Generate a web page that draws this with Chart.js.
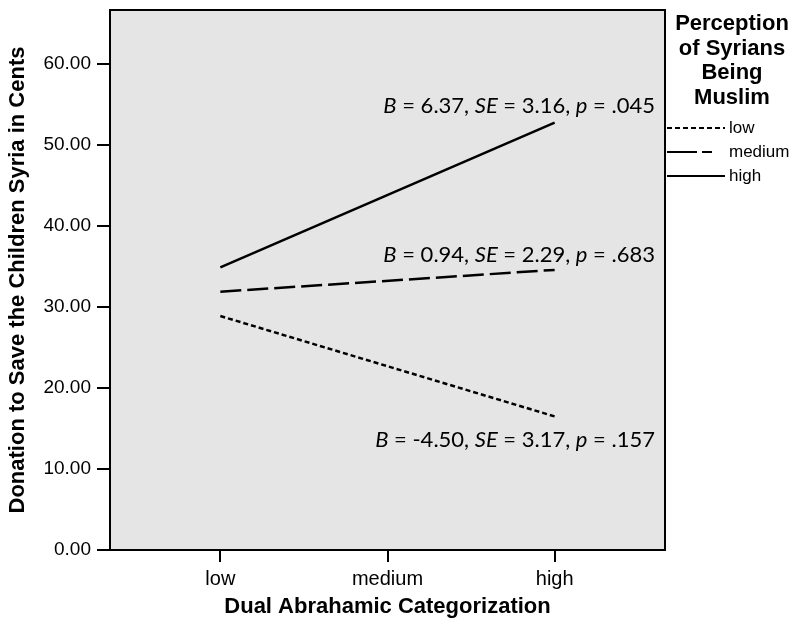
<!DOCTYPE html>
<html>
<head>
<meta charset="utf-8">
<script src="https://cdn.jsdelivr.net/npm/chart.js@4"></script>
<style>
html,body{margin:0;padding:0;background:#fff;}
#wrap{width:791px;height:625px;position:relative;}
</style>
</head>
<body>
<div id="wrap"><canvas id="c" width="791" height="625"></canvas></div>
<script>
// ---- data ----
const categories = ['low', 'medium', 'high'];
const seriesNames = ['low', 'medium', 'high'];
// fitted simple-slope lines, values at "low" and "high" Dual Abrahamic Categorization
const lowValues = [28.9, 16.5];
const mediumValues = [31.9, 34.6];
const highValues = [34.9, 52.8];
const lineAt = [0, 2]; // category indices of the two ends
const bValues = ['-4.50', '0.94', '6.37'];
const seValues = ['3.17', '2.29', '3.16'];
const pValues = ['.157', '.683', '.045'];
const yTicks = [0, 10, 20, 30, 40, 50, 60];

const FONT = '"Liberation Sans", Arial, sans-serif';
const styles = [
  { dash: [5, 3] },
  { dash: [21, 6] },
  { dash: [] }
];
const seriesValues = [lowValues, mediumValues, highValues];

const datasets = seriesNames.map((n, i) => ({
  label: n,
  data: seriesValues[i].map((v, k) => ({ x: lineAt[k], y: v })),
  borderColor: '#000',
  borderWidth: 2.5,
  borderDash: styles[i].dash,
  pointRadius: 0,
  fill: false,
  tension: 0
}));

const framePlugin = {
  id: 'frame',
  beforeDatasetsDraw(chart) {
    const { ctx, chartArea: a } = chart;
    ctx.save();
    ctx.fillStyle = '#e5e5e5';
    ctx.fillRect(a.left, a.top, a.right - a.left, a.bottom - a.top);
    ctx.restore();
  },
  afterDraw(chart) {
    const { ctx, chartArea: a } = chart;
    ctx.save();
    ctx.strokeStyle = '#000';
    ctx.lineWidth = 2;
    ctx.strokeRect(a.left, a.top, a.right - a.left, a.bottom - a.top);
    ctx.restore();
  }
};

// statistics annotations (anchored in data coordinates, right aligned)
const annotAnchors = [
  { x: 2.6, y: 13.6 },
  { x: 2.6, y: 36.4 },
  { x: 2.6, y: 54.9 }
];
const annotPlugin = {
  id: 'annot',
  afterDatasetsDraw(chart) {
    const { ctx, scales } = chart;
    ctx.save();
    ctx.fillStyle = '#000';
    ctx.textBaseline = 'middle';
    const size = 22;
    const fontN = size + 'px Lato, "Open Sans", sans-serif';
    const fontI = 'italic ' + size + 'px Lato, "Open Sans", sans-serif';
    seriesNames.forEach((n, i) => {
      const parts = [
        ['B', true], [' = ' + bValues[i] + ', ', false],
        ['SE', true], [' = ' + seValues[i] + ', ', false],
        ['p', true], [' = ' + pValues[i], false]
      ];
      let total = 0;
      parts.forEach(p => { ctx.font = p[1] ? fontI : fontN; total += ctx.measureText(p[0]).width; });
      let x = scales.x.getPixelForValue(annotAnchors[i].x) - total;
      const y = scales.y.getPixelForValue(annotAnchors[i].y);
      ctx.textAlign = 'left';
      parts.forEach(p => {
        ctx.font = p[1] ? fontI : fontN;
        ctx.fillText(p[0], x, y);
        x += ctx.measureText(p[0]).width;
      });
    });
    ctx.restore();
  }
};

const legendPlugin = {
  id: 'customLegend',
  afterDraw(chart) {
    const { ctx, chartArea: a } = chart;
    ctx.save();
    ctx.fillStyle = '#000';
    ctx.textAlign = 'center';
    ctx.textBaseline = 'middle';
    ctx.font = 'bold 22px ' + FONT;
    const titleLines = ['Perception', 'of Syrians', 'Being', 'Muslim'];
    const cx = a.right + 67;
    titleLines.forEach((t, i) => ctx.fillText(t, cx, 24 + i * 24.5));
    ctx.font = '17px ' + FONT;
    ctx.textAlign = 'left';
    const legendDash = [[5, 3], [30, 5, 10, 200], []];
    chart.data.datasets.forEach((ds, i) => {
      const y = 128 + i * 24;
      ctx.strokeStyle = '#000';
      ctx.lineWidth = 2;
      ctx.setLineDash(legendDash[i]);
      ctx.beginPath();
      ctx.moveTo(a.right + 2, y);
      ctx.lineTo(a.right + 60, y);
      ctx.stroke();
      ctx.setLineDash([]);
      ctx.fillText(ds.label, a.right + 64, y);
    });
    ctx.restore();
  }
};

new Chart(document.getElementById('c'), {
  type: 'line',
  data: { datasets },
  options: {
    responsive: false,
    animation: false,
    layout: { padding: { top: 10, right: 126, left: 0, bottom: 0 } },
    plugins: { legend: { display: false }, tooltip: { enabled: false } },
    scales: {
      x: {
        type: 'linear',
        min: -0.66,
        max: 2.66,
        afterBuildTicks: s => { s.ticks = categories.map((c, i) => ({ value: i })); },
        afterFit: s => { s.height = 75; s.paddingLeft = 0; s.paddingRight = 0; },
        ticks: {
          callback: v => categories[v],
          font: { size: 20, family: FONT },
          color: '#000',
          padding: 5,
          maxRotation: 0
        },
        grid: { drawOnChartArea: false, drawTicks: true, tickLength: 12, color: '#000', lineWidth: 2 },
        border: { display: false },
        title: {
          display: true,
          text: 'Dual Abrahamic Categorization',
          font: { size: 22, weight: 'bold', family: FONT },
          color: '#000',
          padding: { top: 0, bottom: 5 }
        }
      },
      y: {
        type: 'linear',
        min: 0,
        max: 66.7,
        afterBuildTicks: s => { s.ticks = yTicks.map(v => ({ value: v })); },
        afterFit: s => { s.width = 110; s.paddingTop = 0; s.paddingBottom = 0; },
        ticks: {
          callback: v => v.toFixed(2),
          font: { size: 19, family: FONT },
          color: '#000',
          padding: 6
        },
        grid: { drawOnChartArea: false, drawTicks: true, tickLength: 13, color: '#000', lineWidth: 2 },
        border: { display: false },
        title: {
          display: true,
          text: 'Donation to Save the Children Syria in Cents',
          font: { size: 22, weight: 'bold', family: FONT },
          color: '#000',
          padding: { top: 5, bottom: 0 }
        }
      }
    }
  },
  plugins: [framePlugin, annotPlugin, legendPlugin]
});
</script>
</body>
</html>
